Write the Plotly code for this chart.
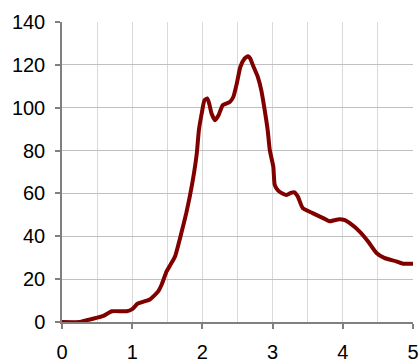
import plotly.graph_objects as go

x_vals = [0.0, 0.26, 0.35, 0.44, 0.58, 0.71, 0.92, 1.0, 1.08, 1.25, 1.37, 1.42, 1.49, 1.55, 1.61, 1.70,
          1.77, 1.82, 1.88, 1.92, 1.95, 1.99, 2.03, 2.07, 2.10, 2.13, 2.18, 2.23, 2.29, 2.39, 2.44, 2.49,
          2.54, 2.60, 2.65, 2.68, 2.72, 2.79, 2.84, 2.88, 2.93, 2.96, 3.01, 3.03, 3.08, 3.14, 3.20,
          3.26, 3.31, 3.36, 3.43, 3.57, 3.72, 3.81, 3.88, 3.95, 4.03, 4.10, 4.24, 4.36, 4.48, 4.59, 4.76,
          4.86, 5.0]
y_vals = [0.0, 0.0, 0.8, 1.5, 2.7, 5.0, 5.0, 6.0, 8.6, 10.5, 14.3, 17.5, 23.6, 27.0, 30.6, 41.5,
          50.8, 58.5, 69.4, 78.7, 89.5, 97.3, 103.5, 104.3, 101.5, 97.3, 94.2, 96.5, 101.2, 102.7, 105.0, 111.3,
          119.0, 122.9, 124.0, 123.0, 119.8, 114.3, 108.0, 100.4, 89.5, 80.2, 72.5, 64.0, 61.3, 60.0, 59.3,
          60.3, 60.5, 58.5, 53.1, 50.8, 48.5, 47.0, 47.5, 48.0, 47.5, 46.1, 42.2, 37.6, 32.2, 29.9, 28.3,
          27.2, 27.2]

x_ticks = [0, 1, 2, 3, 4, 5]
y_ticks = [0, 20, 40, 60, 80, 100, 120, 140]

fig = go.Figure()
fig.add_trace(go.Scatter(x=x_vals, y=y_vals, mode="lines",
                         line=dict(color="#800000", width=4, shape="spline", smoothing=0.5),
                         showlegend=False))

fig.update_layout(
    width=420, height=362,
    margin=dict(l=62, r=6.5, t=21.5, b=39.5, autoexpand=False),
    paper_bgcolor="white", plot_bgcolor="white",
    font=dict(family="Liberation Sans, Arial", size=20, color="black"),
    xaxis=dict(range=[0, 5], tickvals=x_ticks, ticktext=[str(v) for v in x_ticks],
               automargin=False,
               showgrid=True, gridcolor="#d9d9d9", gridwidth=1,
               minor=dict(dtick=0.5, tick0=0, showgrid=True, gridcolor="#d9d9d9", gridwidth=1, ticklen=0),
               showline=True, linecolor="#808080", linewidth=1.5,
               ticks="outside", ticklen=5, tickcolor="#808080", tickwidth=1.5,
               ticklabelstandoff=6, zeroline=False),
    yaxis=dict(range=[0, 140], tickvals=y_ticks, ticktext=[str(v) for v in y_ticks],
               automargin=False,
               showgrid=True, gridcolor="#c0c0c0", gridwidth=1,
               showline=True, linecolor="#808080", linewidth=1.5,
               ticks="outside", ticklen=5, tickcolor="#808080", tickwidth=1.5,
               ticklabelstandoff=6, zeroline=False),
)

fig.write_html("out.html")
